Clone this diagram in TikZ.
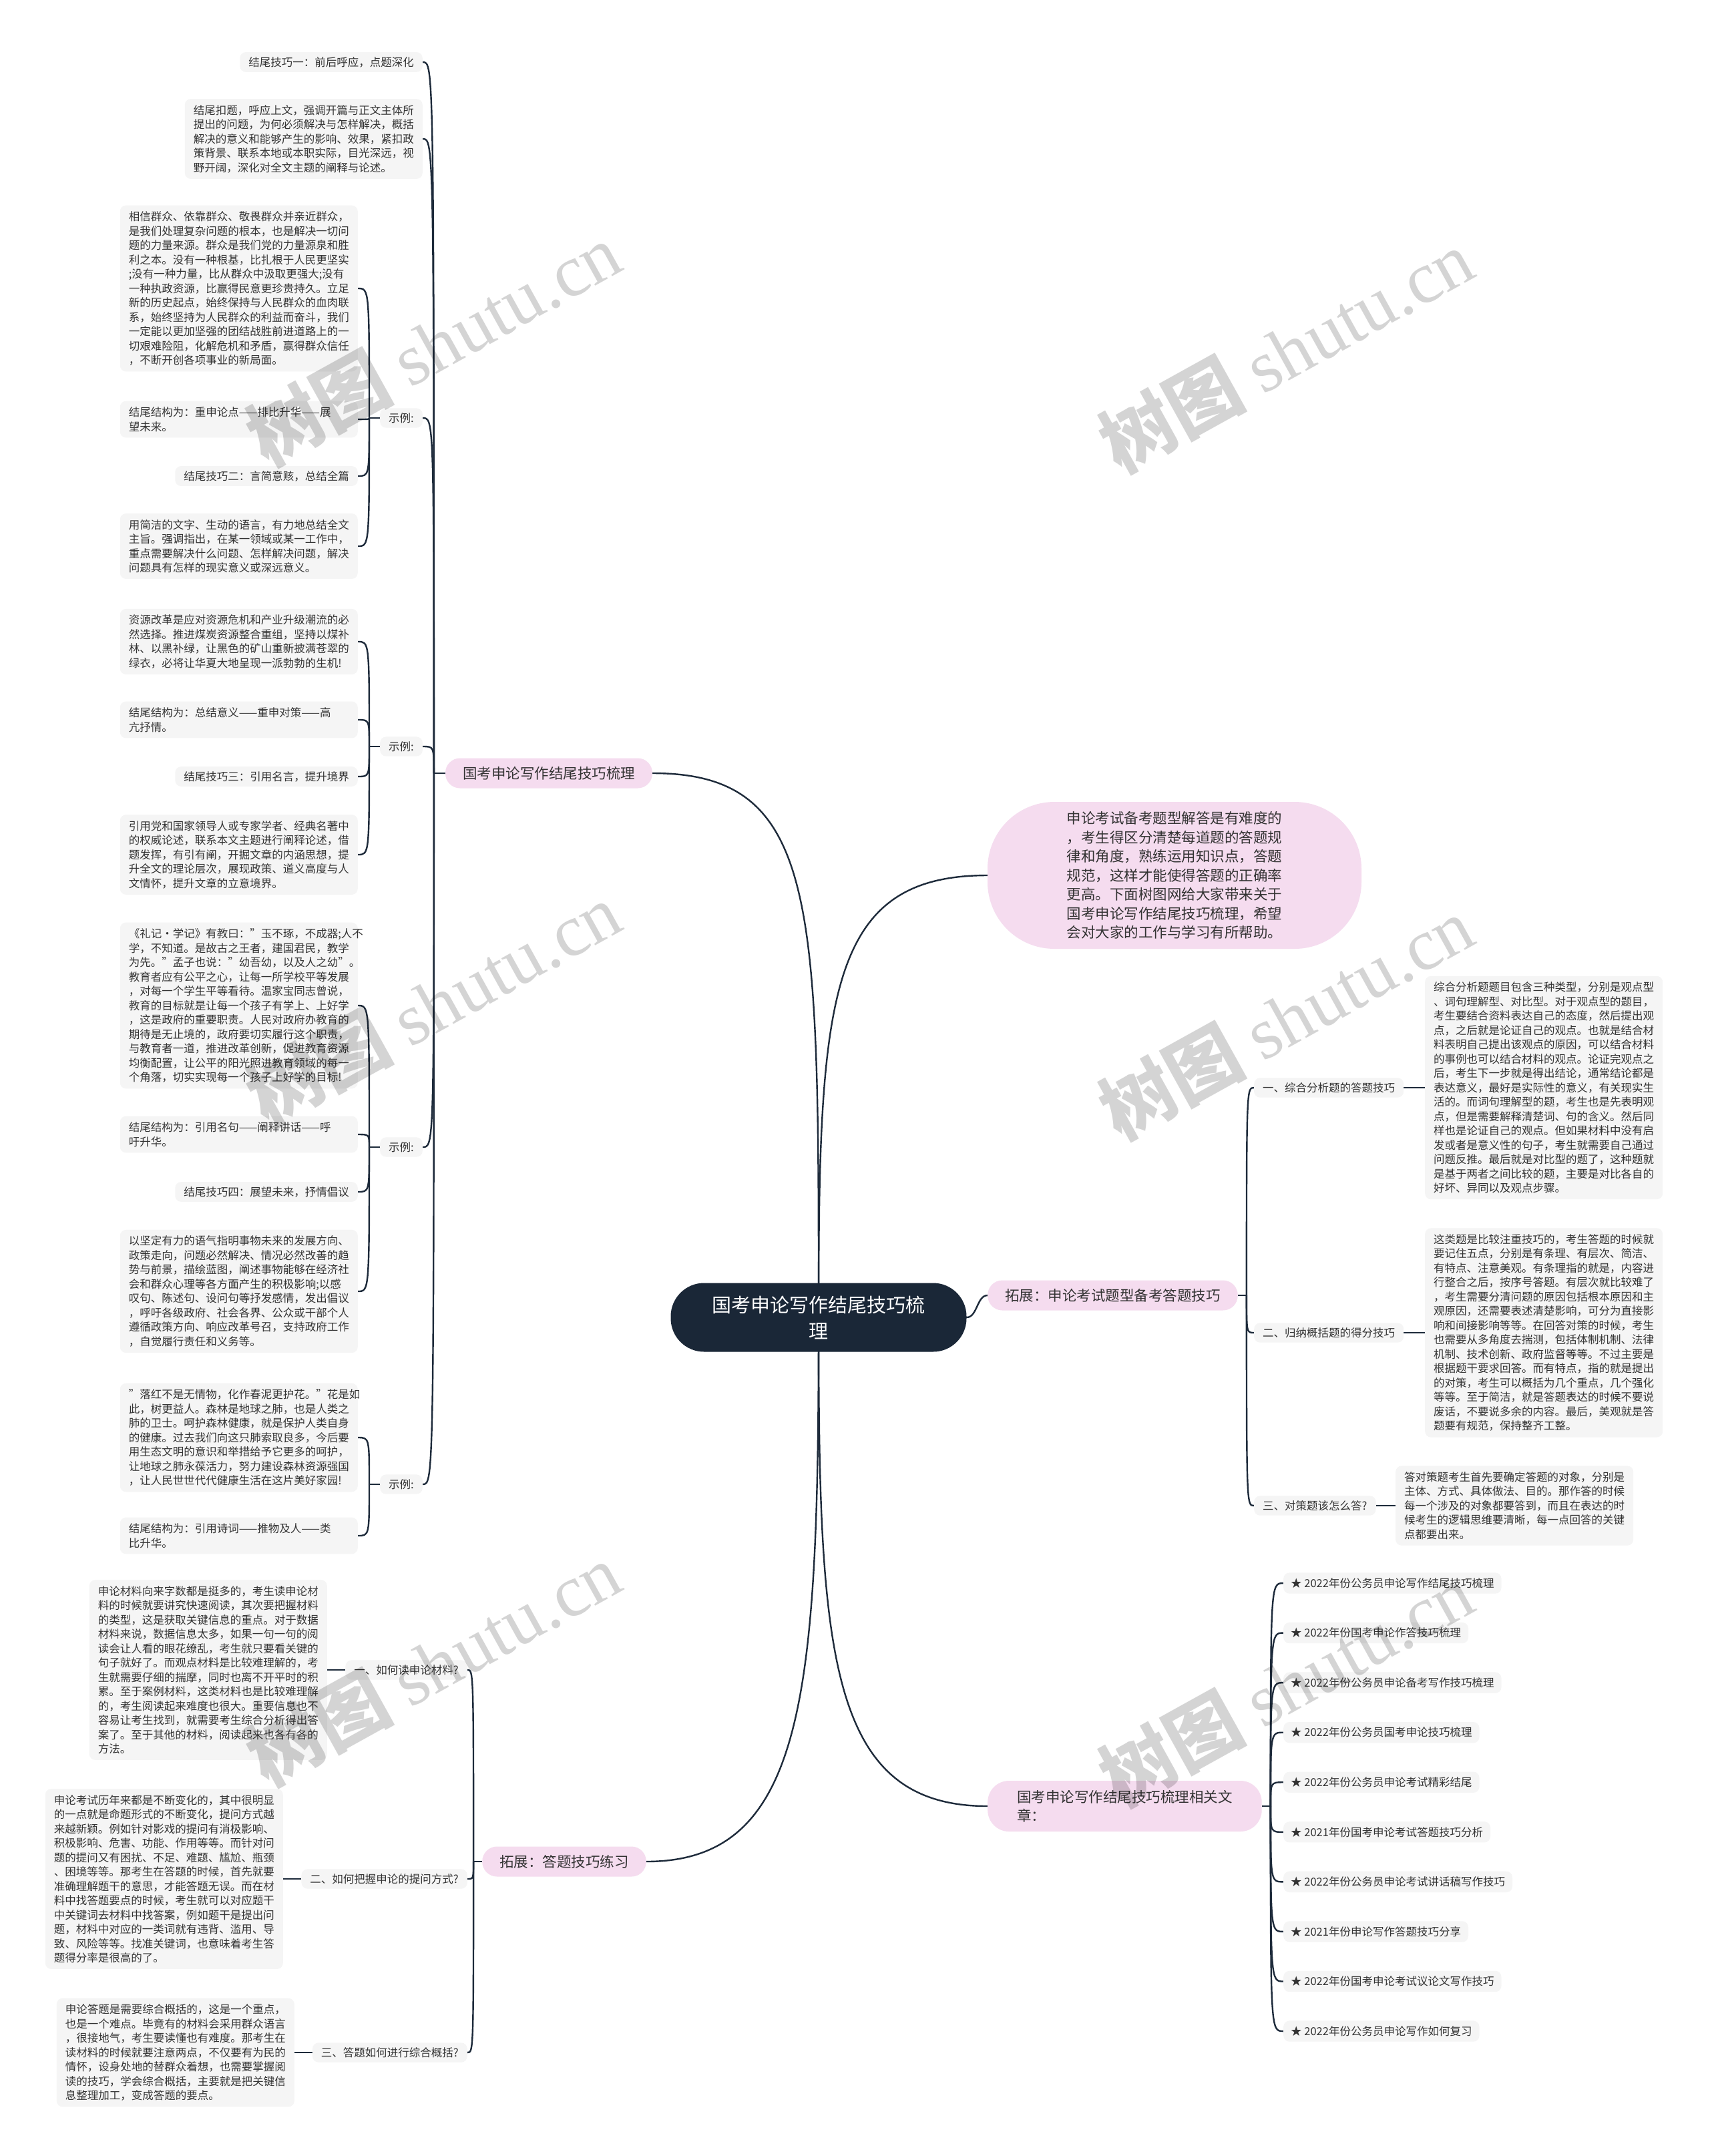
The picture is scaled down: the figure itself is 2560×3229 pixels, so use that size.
\documentclass[tikz,border=0pt]{standalone}
\usepackage{fontspec}
\setmainfont{Noto Sans CJK SC}
\newfontfamily\wmserif{Liberation Serif}
\usetikzlibrary{calc}
\definecolor{linec}{HTML}{1E2B3B}
\definecolor{rootc}{HTML}{1A2737}
\definecolor{pinkc}{HTML}{F5DCEF}
\definecolor{boxg}{HTML}{F5F5F5}
\definecolor{txt}{HTML}{333333}
\newcommand\smallfnt{\fontsize{16.5}{21.5}\selectfont}
\newcommand\midfnt{\fontsize{21.5}{28.5}\selectfont}
\newcommand\bigfnt{\fontsize{29}{39}\selectfont}
\pgfdeclarelayer{paper}
\pgfdeclarelayer{bg}
\pgfdeclarelayer{fg}
\pgfsetlayers{paper,bg,main,fg}
\tikzset{
 gbox/.style={fill=boxg, rounded corners=9pt, inner xsep=13pt, inner ysep=9pt, font=\smallfnt, text=txt, align=left},
 gblock/.style={gbox, text width=330pt},
 glabel/.style={gbox, inner ysep=7pt},
 itembox/.style={gbox, inner xsep=11pt, inner ysep=8pt},
 pill/.style={fill=pinkc, rounded corners=22pt, inner xsep=26pt, minimum height=45pt, font=\midfnt, text=txt, align=left},
 link/.style={draw=linec, line width=2.4pt},
 wm/.style={rotate=29, text=black, text opacity=0.17, font=\fontsize{110}{110}\selectfont},
}
\begin{document}
\begin{tikzpicture}[x=1pt,y=-1pt]
\begin{pgfonlayer}{paper}
\fill[white] (0,0) rectangle (2560,3229);
\end{pgfonlayer}
\useasboundingbox (0,0) rectangle (2560,3229);

% root and first level
\node[fill=rootc, rounded corners=50pt, minimum width=443pt, minimum height=103pt, font=\bigfnt, text=white, align=center] (root) at (1226,1973) {国考申论写作结尾技巧梳\\理};
\node[pill] (b1) at (822,1158) {国考申论写作结尾技巧梳理};
\node[fill=pinkc, rounded corners=100pt, minimum width=560pt, minimum height=220pt, font=\midfnt, text=txt, align=center] (intro) at (1759,1311) {申论考试备考题型解答是有难度的\\%
，考生得区分清楚每道题的答题规\\%
律和角度，熟练运用知识点，答题\\%
规范，这样才能使得答题的正确率\\%
更高。下面树图网给大家带来关于\\%
国考申论写作结尾技巧梳理，希望\\%
会对大家的工作与学习有所帮助。};
\node[pill, anchor=west] (b3) at (1479,1940) {拓展：申论考试题型备考答题技巧};
\node[pill, anchor=east] (b4) at (968,2788) {拓展：答题技巧练习};
\node[pill, anchor=west, inner xsep=44pt, rounded corners=32pt, minimum height=76pt] (b5) at (1479,2705) {国考申论写作结尾技巧梳理相关文\\章：};

% left column
\node[glabel, anchor=east] (t1) at (633,93) {结尾技巧一：前后呼应，点题深化};
\node[gblock, anchor=east] (ta) at (633,208) {结尾扣题，呼应上文，强调开篇与正文主体所\\%
提出的问题，为何必须解决与怎样解决，概括\\%
解决的意义和能够产生的影响、效果，紧扣政\\%
策背景、联系本地或本职实际，目光深远，视\\%
野开阔，深化对全文主题的阐释与论述。};
\node[glabel, anchor=east] (ex1) at (633,626) {示例:};
\node[gblock, anchor=east] (e11) at (536,432) {相信群众、依靠群众、敬畏群众并亲近群众，\\%
是我们处理复杂问题的根本，也是解决一切问\\%
题的力量来源。群众是我们党的力量源泉和胜\\%
利之本。没有一种根基，比扎根于人民更坚实\\%
;没有一种力量，比从群众中汲取更强大;没有\\%
一种执政资源，比赢得民意更珍贵持久。立足\\%
新的历史起点，始终保持与人民群众的血肉联\\%
系，始终坚持为人民群众的利益而奋斗，我们\\%
一定能以更加坚强的团结战胜前进道路上的一\\%
切艰难险阻，化解危机和矛盾，赢得群众信任\\%
，不断开创各项事业的新局面。};
\node[gblock, anchor=east] (e12) at (536,628) {结尾结构为：重申论点——排比升华——展\\%
望未来。};
\node[glabel, anchor=east] (e13) at (536,713) {结尾技巧二：言简意赅，总结全篇};
\node[gblock, anchor=east] (e14) at (536,818) {用简洁的文字、生动的语言，有力地总结全文\\%
主旨。强调指出，在某一领域或某一工作中，\\%
重点需要解决什么问题、怎样解决问题，解决\\%
问题具有怎样的现实意义或深远意义。};
\node[glabel, anchor=east] (ex2) at (633,1118) {示例:};
\node[gblock, anchor=east] (e21) at (536,961) {资源改革是应对资源危机和产业升级潮流的必\\%
然选择。推进煤炭资源整合重组，坚持以煤补\\%
林、以黑补绿，让黑色的矿山重新披满苍翠的\\%
绿衣，必将让华夏大地呈现一派勃勃的生机!};
\node[gblock, anchor=east] (e22) at (536,1078) {结尾结构为：总结意义——重申对策——高\\%
亢抒情。};
\node[glabel, anchor=east] (e23) at (536,1163) {结尾技巧三：引用名言，提升境界};
\node[gblock, anchor=east] (e24) at (536,1280) {引用党和国家领导人或专家学者、经典名著中\\%
的权威论述，联系本文主题进行阐释论述，借\\%
题发挥，有引有阐，开掘文章的内涵思想，提\\%
升全文的理论层次，展现政策、道义高度与人\\%
文情怀，提升文章的立意境界。};
\node[glabel, anchor=east] (ex3) at (633,1718) {示例:};
\node[gblock, anchor=east] (e31) at (536,1506) {《礼记·学记》有教曰："玉不琢，不成器;人不\\%
学，不知道。是故古之王者，建国君民，教学\\%
为先。"孟子也说："幼吾幼，以及人之幼"。\\%
教育者应有公平之心，让每一所学校平等发展\\%
，对每一个学生平等看待。温家宝同志曾说，\\%
教育的目标就是让每一个孩子有学上、上好学\\%
，这是政府的重要职责。人民对政府办教育的\\%
期待是无止境的，政府要切实履行这个职责，\\%
与教育者一道，推进改革创新，促进教育资源\\%
均衡配置，让公平的阳光照进教育领域的每一\\%
个角落，切实实现每一个孩子上好学的目标!};
\node[gblock, anchor=east] (e32) at (536,1699) {结尾结构为：引用名句——阐释讲话——呼\\%
吁升华。};
\node[glabel, anchor=east] (e33) at (536,1785) {结尾技巧四：展望未来，抒情倡议};
\node[gblock, anchor=east] (e34) at (536,1934) {以坚定有力的语气指明事物未来的发展方向、\\%
政策走向，问题必然解决、情况必然改善的趋\\%
势与前景，描绘蓝图，阐述事物能够在经济社\\%
会和群众心理等各方面产生的积极影响;以感\\%
叹句、陈述句、设问句等抒发感情，发出倡议\\%
，呼吁各级政府、社会各界、公众或干部个人\\%
遵循政策方向、响应改革号召，支持政府工作\\%
，自觉履行责任和义务等。};
\node[glabel, anchor=east] (ex4) at (633,2223) {示例:};
\node[gblock, anchor=east] (e41) at (536,2153) {"落红不是无情物，化作春泥更护花。"花是如\\%
此，树更益人。森林是地球之肺，也是人类之\\%
肺的卫士。呵护森林健康，就是保护人类自身\\%
的健康。过去我们向这只肺索取良多，今后要\\%
用生态文明的意识和举措给予它更多的呵护，\\%
让地球之肺永葆活力，努力建设森林资源强国\\%
，让人民世世代代健康生活在这片美好家园!};
\node[gblock, anchor=east] (e42) at (536,2300) {结尾结构为：引用诗词——推物及人——类\\%
比升华。};

% right middle
\node[glabel, anchor=west] (r1) at (1878,1629) {一、综合分析题的答题技巧};
\node[gblock, anchor=west] (rb1) at (2134,1629) {综合分析题题目包含三种类型，分别是观点型\\%
、词句理解型、对比型。对于观点型的题目，\\%
考生要结合资料表达自己的态度，然后提出观\\%
点，之后就是论证自己的观点。也就是结合材\\%
料表明自己提出该观点的原因，可以结合材料\\%
的事例也可以结合材料的观点。论证完观点之\\%
后，考生下一步就是得出结论，通常结论都是\\%
表达意义，最好是实际性的意义，有关现实生\\%
活的。而词句理解型的题，考生也是先表明观\\%
点，但是需要解释清楚词、句的含义。然后同\\%
样也是论证自己的观点。但如果材料中没有启\\%
发或者是意义性的句子，考生就需要自己通过\\%
问题反推。最后就是对比型的题了，这种题就\\%
是基于两者之间比较的题，主要是对比各自的\\%
好坏、异同以及观点步骤。};
\node[glabel, anchor=west] (r2) at (1878,1996) {二、归纳概括题的得分技巧};
\node[gblock, anchor=west] (rb2) at (2134,1996) {这类题是比较注重技巧的，考生答题的时候就\\%
要记住五点，分别是有条理、有层次、简洁、\\%
有特点、注意美观。有条理指的就是，内容进\\%
行整合之后，按序号答题。有层次就比较难了\\%
，考生需要分清问题的原因包括根本原因和主\\%
观原因，还需要表述清楚影响，可分为直接影\\%
响和间接影响等等。在回答对策的时候，考生\\%
也需要从多角度去揣测，包括体制机制、法律\\%
机制、技术创新、政府监督等等。不过主要是\\%
根据题干要求回答。而有特点，指的就是提出\\%
的对策，考生可以概括为几个重点，几个强化\\%
等等。至于简洁，就是答题表达的时候不要说\\%
废话，不要说多余的内容。最后，美观就是答\\%
题要有规范，保持整齐工整。};
\node[glabel, anchor=west] (r3) at (1878,2255) {三、对策题该怎么答?};
\node[gblock, anchor=west] (rb3) at (2090,2255) {答对策题考生首先要确定答题的对象，分别是\\%
主体、方式、具体做法、目的。那作答的时候\\%
每一个涉及的对象都要答到，而且在表达的时\\%
候考生的逻辑思维要清晰，每一点回答的关键\\%
点都要出来。};

% bottom left
\node[glabel, anchor=east] (q1) at (700,2501) {一、如何读申论材料?};
\node[gblock, anchor=east] (qb1) at (490,2501) {申论材料向来字数都是挺多的，考生读申论材\\%
料的时候就要讲究快速阅读，其次要把握材料\\%
的类型，这是获取关键信息的重点。对于数据\\%
材料来说，数据信息太多，如果一句一句的阅\\%
读会让人看的眼花缭乱，考生就只要看关键的\\%
句子就好了。而观点材料是比较难理解的，考\\%
生就需要仔细的揣摩，同时也离不开平时的积\\%
累。至于案例材料，这类材料也是比较难理解\\%
的，考生阅读起来难度也很大。重要信息也不\\%
容易让考生找到，就需要考生综合分析得出答\\%
案了。至于其他的材料，阅读起来也各有各的\\%
方法。};
\node[glabel, anchor=east] (q2) at (700,2814) {二、如何把握申论的提问方式?};
\node[gblock, anchor=east] (qb2) at (424,2814) {申论考试历年来都是不断变化的，其中很明显\\%
的一点就是命题形式的不断变化，提问方式越\\%
来越新颖。例如针对影戏的提问有消极影响、\\%
积极影响、危害、功能、作用等等。而针对问\\%
题的提问又有困扰、不足、难题、尴尬、瓶颈\\%
、困境等等。那考生在答题的时候，首先就要\\%
准确理解题干的意思，才能答题无误。而在材\\%
料中找答题要点的时候，考生就可以对应题干\\%
中关键词去材料中找答案，例如题干是提出问\\%
题，材料中对应的一类词就有违背、滥用、导\\%
致、风险等等。找准关键词，也意味着考生答\\%
题得分率是很高的了。};
\node[glabel, anchor=east] (q3) at (700,3074) {三、答题如何进行综合概括?};
\node[gblock, anchor=east] (qb3) at (441,3074) {申论答题是需要综合概括的，这是一个重点，\\%
也是一个难点。毕竟有的材料会采用群众语言\\%
，很接地气，考生要读懂也有难度。那考生在\\%
读材料的时候就要注意两点，不仅要有为民的\\%
情怀，设身处地的替群众着想，也需要掌握阅\\%
读的技巧，学会综合概括，主要就是把关键信\\%
息整理加工，变成答题的要点。};

% related articles
\foreach \t [count=\i] in {2022年份公务员申论写作结尾技巧梳理,2022年份国考申论作答技巧梳理,2022年份公务员申论备考写作技巧梳理,2022年份公务员国考申论技巧梳理,2022年份公务员申论考试精彩结尾,2021年份国考申论考试答题技巧分析,2022年份公务员申论考试讲话稿写作技巧,2021年份申论写作答题技巧分享,2022年份国考申论考试议论文写作技巧,2022年份公务员申论写作如何复习}
  \node[itembox, anchor=west] (a\i) at (1922,{2371+74.56*(\i-1)}) {★ \t};

% connectors
\begin{pgfonlayer}{bg}
\draw[link] (root.center) .. controls +(0,-620) and +(250,0) .. (b1.east);
\draw[link] (root.center) .. controls +(0,-480) and +(-240,0) .. (intro.west);
\draw[link] (root.center) -- (root.east) .. controls +(16,0) and +(-16,0) .. (b3.west);
\draw[link] (root.center) .. controls +(0,560) and +(240,0) .. (b4.east);
\draw[link] (root.center) .. controls +(0,500) and +(-240,0) .. (b5.west);

\coordinate (j1) at ($(b1.west)+(-17,0)$);
\draw[link] (b1.west) -- (j1);
\foreach \c in {t1,ta,ex1,ex2,ex3,ex4}
  \draw[link] (j1) .. controls (j1 |- \c.east) .. (\c.east);

\coordinate (jx1) at ($(ex1.west)+(-16,0)$);
\draw[link] (ex1.west) -- (jx1);
\foreach \c in {e11,e12,e13,e14}
  \draw[link] (jx1) .. controls (jx1 |- \c.east) .. (\c.east);
\coordinate (jx2) at ($(ex2.west)+(-16,0)$);
\draw[link] (ex2.west) -- (jx2);
\foreach \c in {e21,e22,e23,e24}
  \draw[link] (jx2) .. controls (jx2 |- \c.east) .. (\c.east);
\coordinate (jx3) at ($(ex3.west)+(-16,0)$);
\draw[link] (ex3.west) -- (jx3);
\foreach \c in {e31,e32,e33,e34}
  \draw[link] (jx3) .. controls (jx3 |- \c.east) .. (\c.east);
\coordinate (jx4) at ($(ex4.west)+(-16,0)$);
\draw[link] (ex4.west) -- (jx4);
\foreach \c in {e41,e42}
  \draw[link] (jx4) .. controls (jx4 |- \c.east) .. (\c.east);

\coordinate (j3) at ($(b3.east)+(13,0)$);
\draw[link] (b3.east) -- (j3);
\foreach \c in {r1,r2,r3}
  \draw[link] (j3) .. controls (j3 |- \c.west) .. (\c.west);
\draw[link] (r1.east) -- (rb1.west);
\draw[link] (r2.east) -- (rb2.west);
\draw[link] (r3.east) -- (rb3.west);

\coordinate (j4) at ($(b4.west)+(-13,0)$);
\draw[link] (b4.west) -- (j4);
\foreach \c in {q1,q2,q3}
  \draw[link] (j4) .. controls (j4 |- \c.east) .. (\c.east);
\draw[link] (q1.west) -- (qb1.east);
\draw[link] (q2.west) -- (qb2.east);
\draw[link] (q3.west) -- (qb3.east);

\coordinate (j5) at ($(b5.east)+(13,0)$);
\draw[link] (b5.east) -- (j5);
\foreach \i in {1,...,10}
  \draw[link] (j5) .. controls (j5 |- a\i.west) .. (a\i.west);
\end{pgfonlayer}

% watermarks
\begin{pgfonlayer}{fg}
\foreach \p/\q in {649/515,1926/525,649/1503,1926/1524,649/2492,1926/2523}
  \node[wm] (wm\p\q) at (\p,\q) {\textbf{树图} {\wmserif shutu.cn}};
\end{pgfonlayer}
\end{tikzpicture}
\end{document}
